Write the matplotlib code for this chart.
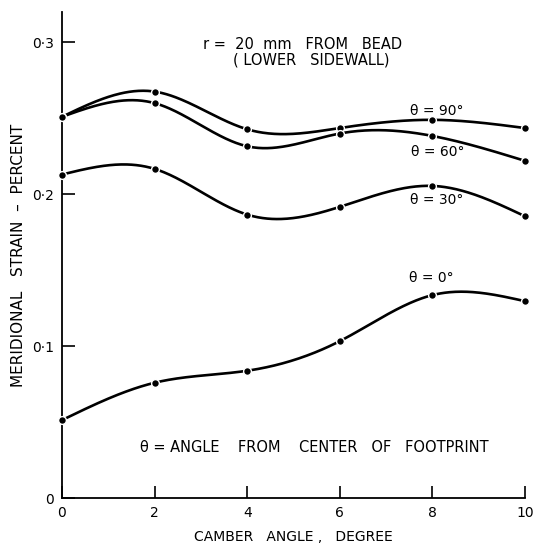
import numpy as np
import matplotlib
matplotlib.use("Agg")
import matplotlib.pyplot as plt

# Camber angle (degree) and meridional strain (percent) for each footprint angle
camber = [0, 2, 4, 6, 8, 10]
strain_90 = [0.251, 0.2676, 0.2428, 0.2436, 0.249, 0.2436]
strain_60 = [0.251, 0.260, 0.2316, 0.240, 0.2384, 0.222]
strain_30 = [0.213, 0.2167, 0.1866, 0.1917, 0.2055, 0.1855]
strain_0 = [0.0513, 0.0759, 0.0838, 0.1033, 0.1336, 0.1296]

series = [
    (strain_90, "\u03b8 = 90\u00b0", (8.1, 0.255)),
    (strain_60, "\u03b8 = 60\u00b0", (8.12, 0.2276)),
    (strain_30, "\u03b8 = 30\u00b0", (8.1, 0.1965)),
    (strain_0, "\u03b8 = 0\u00b0", (7.98, 0.145)),
]

ytick_vals = [0, 0.1, 0.2, 0.3]
ytick_labels = ["0", "0\u00b71", "0\u00b72", "0\u00b73"]
xtick_vals = [0, 2, 4, 6, 8, 10]


def natural_spline(x, y, n=400):
    """Smooth natural cubic spline through the measured points."""
    x = np.asarray(x, float)
    y = np.asarray(y, float)
    k = len(x)
    h = np.diff(x)
    A = np.zeros((k, k))
    b = np.zeros(k)
    A[0, 0] = A[-1, -1] = 1.0
    for i in range(1, k - 1):
        A[i, i - 1] = h[i - 1]
        A[i, i] = 2 * (h[i - 1] + h[i])
        A[i, i + 1] = h[i]
        b[i] = 6 * ((y[i + 1] - y[i]) / h[i] - (y[i] - y[i - 1]) / h[i - 1])
    m = np.linalg.solve(A, b)
    xs = np.linspace(x[0], x[-1], n)
    idx = np.clip(np.searchsorted(x, xs) - 1, 0, k - 2)
    x0, x1 = x[idx], x[idx + 1]
    hh = x1 - x0
    t0, t1 = x1 - xs, xs - x0
    ys = (m[idx] * t0 ** 3 / (6 * hh) + m[idx + 1] * t1 ** 3 / (6 * hh)
          + (y[idx] / hh - m[idx] * hh / 6) * t0
          + (y[idx + 1] / hh - m[idx + 1] * hh / 6) * t1)
    return xs, ys


plt.rcParams["font.family"] = ["DejaVu Sans"]

fig = plt.figure(figsize=(5.33, 5.48), dpi=100)
ax = fig.add_axes([0.1163, 0.0912, 0.8687, 0.8869])

for vals, label, pos in series:
    xs, ys = natural_spline(camber, vals)
    ax.plot(xs, ys, color="black", lw=1.9, solid_capstyle="round", zorder=2)
    ax.plot(camber, vals, "o", ms=5.6, mfc="black", mec="white", mew=1.0,
            zorder=3, clip_on=False)
    ax.text(pos[0], pos[1], label, ha="center", va="center", fontsize=10)

ax.text(5.2, 0.2985, "r =  20  mm   FROM   BEAD", ha="center", va="center",
        fontsize=10.5)
ax.text(5.38, 0.2885, "( LOWER   SIDEWALL)", ha="center", va="center",
        fontsize=10.5)
ax.text(5.44, 0.0335, "\u03b8 = ANGLE    FROM    CENTER   OF   FOOTPRINT",
        ha="center", va="center", fontsize=10.5)

ax.set_xlim(0, 10)
ax.set_ylim(0, 0.32)
ax.set_xticks(xtick_vals)
ax.set_yticks(ytick_vals)
ax.set_yticklabels(ytick_labels)
ax.tick_params(direction="in", length=9, width=1.2, labelsize=10, pad=6)

for side in ("top", "right"):
    ax.spines[side].set_visible(False)
for side in ("left", "bottom"):
    ax.spines[side].set_linewidth(1.3)

ax.set_xlabel("CAMBER   ANGLE ,   DEGREE", fontsize=10, labelpad=7)
ax.set_ylabel("MERIDIONAL   STRAIN  \u2013  PERCENT", fontsize=11, labelpad=4)

fig.savefig("out.png", dpi=100)
